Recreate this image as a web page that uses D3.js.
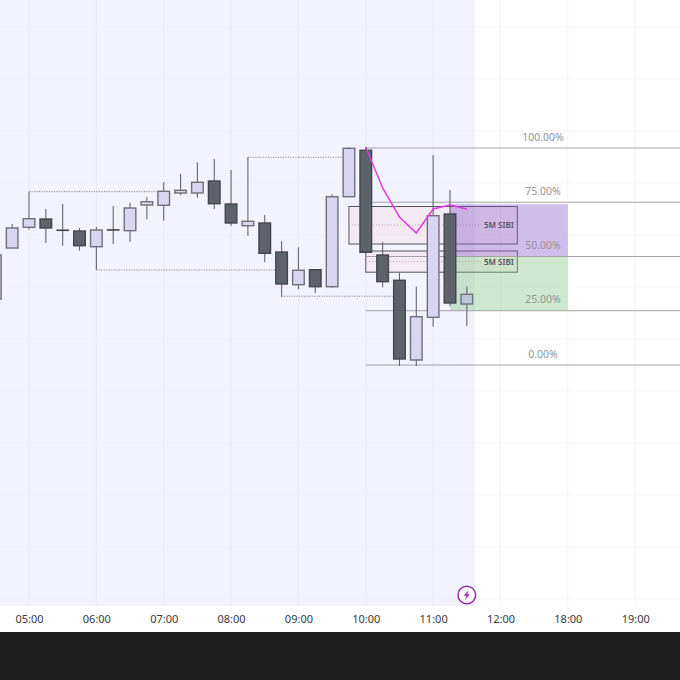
<!DOCTYPE html>
<html>
<head>
<meta charset="utf-8">
<script src="https://cdn.jsdelivr.net/npm/d3@7"></script>
<style>
  html, body { margin: 0; padding: 0; background: #fff; }
  svg { display: block; font-family: "Noto Sans", sans-serif; }
</style>
</head>
<body>
<div id="chart"></div>
<script>
// bars are 15 min apart, bar 0 is 05:00
const barIndex = [-2,-1,0,1,2,3,4,5,6,7,8,9,10,11,12,13,14,15,16,17,18,19,20,21,22,23,24,25,26];
const opens  = [341,392,412.7,421,410,409,393.3,410.3,409.3,435,434.7,447,447,459,436,414.3,417,388,355.3,370.3,353.3,443.3,489.7,385,359.7,280,322.7,426,336];
const highs  = [385,416,448.3,431,436,412,413,434,437.3,443,457.7,466,477.7,481,470,482.7,425,399,392.7,370.3,445.7,492.7,492.7,397.7,367,353.3,485,450,353.3];
const lows   = [341,392,410.5,397,394.3,389.3,370,396,398.3,420.7,419.3,444.7,442.3,431,414.3,404.3,377.7,343.3,350.7,347,352.3,443.3,387.7,352.7,274,274,313.3,334,314];
const closes = [385,412,421.3,412,410,394.3,410,410.3,432,438.3,448.7,449.7,457.7,436.3,417,418.7,386.7,356,369.7,353.3,443.3,491.7,387.7,358.3,281,323.3,424.3,337,345.7];

const tickBars = [0,4,8,12,16,20,24,28,32,36];
const tickLabels = ['05:00','06:00','07:00','08:00','09:00','10:00','11:00','12:00','18:00','19:00'];
const gridPrices = [613,561,509,457,405,353,301,249,197,145,93,41];

const fibPcts = [0,25,50,75,100];
const fibLow = 275, fibHigh = 492;

// forecast path drawn from bar 20
const pathBars = [20,21,22,23,24,25,26];
const pathPrices = [493,452,423,407,431,435,431];

// swing lines: [from bar, to bar, price]
const swingFrom = [0,4,13,15];
const swingTo = [7.7,15,19,21.9];
const swingPrice = [448.3,370,482.7,343.8];

// 5M SIBI zones
const sibiFrom = [19,20];
const sibiTo = [29,29];
const sibiTop = [433.5,389];
const sibiBottom = [396,367.8];
const sibiMid = [415,378.5];
const sibiLabel = ['5M SIBI','5M SIBI'];

const W = 680, H = 680, plotBottom = 606, axisBottom = 632;

const x = d3.scaleLinear().domain([0,28]).range([29,500.5]);
const y = d3.scaleLinear().domain([0,640]).range([640,0]);
const fibY = p => y(fibLow + (fibHigh - fibLow) * p / 100);
const bodyW = 11.6;
const sessionEnd = x(26) + 8;

const svg = d3.select('#chart').append('svg')
  .attr('width', W).attr('height', H);

// chart background
svg.append('rect').attr('x', 0).attr('y', 0)
  .attr('width', W).attr('height', plotBottom).attr('fill', '#fff');
svg.append('rect').attr('x', 0).attr('y', 0)
  .attr('width', sessionEnd).attr('height', plotBottom).attr('fill', '#f3f2ff');

// grid
svg.append('g').selectAll('line').data(tickBars).enter().append('line')
  .attr('x1', d => x(d)).attr('x2', d => x(d))
  .attr('y1', 0).attr('y2', plotBottom)
  .attr('stroke', d => x(d) < sessionEnd ? '#e9e8f5' : '#f3f3f5').attr('stroke-width', 1);
const hGrid = svg.append('g');
hGrid.selectAll('line.left').data(gridPrices).enter().append('line')
  .attr('x1', 0).attr('x2', sessionEnd)
  .attr('y1', d => y(d)).attr('y2', d => y(d))
  .attr('stroke', '#edecf8').attr('stroke-width', 1);
hGrid.selectAll('line.right').data(gridPrices).enter().append('line')
  .attr('x1', sessionEnd).attr('x2', W)
  .attr('y1', d => y(d)).attr('y2', d => y(d))
  .attr('stroke', '#f5f5f7').attr('stroke-width', 1);

// SIBI zones sit under the fib zones
const sibi = svg.append('g');
sibiLabel.forEach((label, i) => {
  sibi.append('rect')
    .attr('x', x(sibiFrom[i])).attr('width', x(sibiTo[i]) - x(sibiFrom[i]))
    .attr('y', y(sibiTop[i])).attr('height', y(sibiBottom[i]) - y(sibiTop[i]))
    .attr('fill', 'rgba(255,175,142,0.11)')
    .attr('stroke', '#55555c').attr('stroke-width', 1);
  sibi.append('line')
    .attr('x1', x(sibiFrom[i])).attr('x2', x(26.8))
    .attr('y1', y(sibiMid[i])).attr('y2', y(sibiMid[i]))
    .attr('stroke', '#c79aa4').attr('stroke-width', 1)
    .attr('stroke-dasharray', '1 2');
});

// fib target zones
svg.append('rect')
  .attr('x', x(25)).attr('width', x(32) - x(25))
  .attr('y', fibY(75) + 2)
  .attr('height', fibY(50) - fibY(75) - 2)
  .attr('fill', 'rgba(135,90,202,0.4)');
svg.append('rect')
  .attr('x', x(25)).attr('width', x(32) - x(25))
  .attr('y', fibY(50)).attr('height', fibY(25) - fibY(50))
  .attr('fill', 'rgba(130,198,135,0.4)');

// fib levels
const fib = svg.append('g');
fib.selectAll('line').data(fibPcts).enter().append('line')
  .attr('x1', x(20)).attr('x2', W)
  .attr('y1', d => fibY(d)).attr('y2', d => fibY(d))
  .attr('stroke', '#a3a3a6').attr('stroke-width', 1);
fib.selectAll('text').data(fibPcts).enter().append('text')
  .attr('x', 543).attr('y', d => fibY(d) - 7.5)
  .attr('text-anchor', 'middle')
  .attr('font-size', 10.5)
  .attr('fill', '#949498')
  .text(d => d.toFixed(2) + '%');

// swing dotted lines
svg.append('g').selectAll('line').data(swingPrice).enter().append('line')
  .attr('x1', (d, i) => x(swingFrom[i])).attr('x2', (d, i) => x(swingTo[i]))
  .attr('y1', d => y(d)).attr('y2', d => y(d))
  .attr('stroke', '#77777f').attr('stroke-width', 1)
  .attr('stroke-dasharray', '1 1.5');

// candles
const candles = svg.append('g').selectAll('g').data(barIndex).enter().append('g');
const isUp = i => closes[i] > opens[i];
const isDoji = i => closes[i] === opens[i];
const isLast = i => i === barIndex.length - 1;

candles.append('line')
  .attr('x1', d => x(d)).attr('x2', d => x(d))
  .attr('y1', (d, i) => y(highs[i])).attr('y2', (d, i) => y(lows[i]))
  .attr('stroke', '#66666f').attr('stroke-width', 1.1);

candles.append('rect')
  .attr('x', d => x(d) - bodyW / 2)
  .attr('width', bodyW)
  .attr('y', (d, i) => y(Math.max(opens[i], closes[i])))
  .attr('height', (d, i) => Math.max(0.5, Math.abs(opens[i] - closes[i])))
  .attr('fill', (d, i) => isLast(i) ? '#bcc5d6' : isUp(i) ? '#d9d5f0' : '#5e626b')
  .attr('stroke', (d, i) => isUp(i) ? '#6f6f7d' : '#43464f')
  .attr('stroke-width', (d, i) => isDoji(i) ? 1.1 : 1.4);

// forecast path
const pathLine = d3.line().x(d => x(d[0])).y(d => y(d[1]));
svg.append('path')
  .datum(pathBars.map((b, i) => [b, pathPrices[i]]))
  .attr('d', pathLine)
  .attr('fill', 'none')
  .attr('stroke', '#e23ce0').attr('stroke-width', 1.5);

// SIBI labels on top
svg.append('g').selectAll('text').data(sibiLabel).enter().append('text')
  .attr('x', x(27.9)).attr('y', (d, i) => y(sibiMid[i]) + 3)
  .attr('text-anchor', 'middle')
  .attr('font-size', 8).attr('font-weight', 600)
  .attr('fill', '#5b5062')
  .text(d => d);

// bottom axis
svg.append('rect').attr('x', 0).attr('y', plotBottom)
  .attr('width', W).attr('height', axisBottom - plotBottom).attr('fill', '#fff');
const axis = svg.append('g')
  .attr('transform', 'translate(0,' + plotBottom + ')')
  .call(d3.axisBottom(x).tickValues(tickBars)
    .tickFormat((d, i) => tickLabels[i]).tickSize(0).tickPadding(9));
axis.select('.domain').remove();
axis.selectAll('text')
  .attr('font-size', 11)
  .attr('font-family', '"Noto Sans", sans-serif')
  .attr('fill', '#3a3a3e');

// replay marker
const marker = svg.append('g')
  .attr('transform', 'translate(' + x(26) + ',595)');
marker.append('circle').attr('r', 8.8)
  .attr('fill', '#fff').attr('stroke', '#8e2fa8').attr('stroke-width', 1.5);
marker.append('path')
  .attr('d', 'M1.8,-5 L-3,0.8 L-0.4,0.8 L-1.8,5 L3,-0.8 L0.4,-0.8 Z')
  .attr('fill', '#8e2fa8');

// dark footer
svg.append('rect').attr('x', 0).attr('y', axisBottom)
  .attr('width', W).attr('height', H - axisBottom).attr('fill', '#1e1e1e');
</script>
</body>
</html>
